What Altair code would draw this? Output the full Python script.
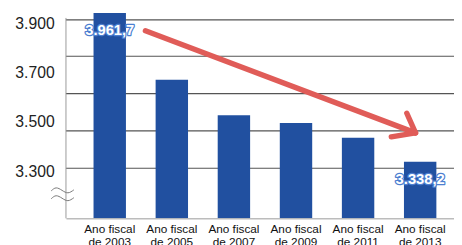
import altair as alt
import pandas as pd

# ---- data ----
years = ["2003", "2005", "2007", "2009", "2011", "2013"]
values = [3961.7, 3672, 3528, 3496, 3436, 3338.2]
value_labels = ["3.961,7", "", "", "", "", "3.338,2"]
y_ticks = [3300, 3500, 3700, 3900]
grid_values = [3916, 3768, 3616, 3464, 3312]
y_min, y_max = 3108, 3944
axis_top = 3924

# arrow annotation (x in band-step units from the left edge, y in data units)
arrow_x = [1.28, 5.49, 5.24]
arrow_y = [3872, 3536, 3440]
arrow_x2 = [5.63, 5.63, 5.63]
arrow_y2 = [3456, 3456, 3456]
# axis-break waves (same units)
wave_x = [-0.237, -0.158, -0.063, 0.032, 0.127]
wave_upper_y = [3220, 3232, 3222, 3212, 3224]
wave_lower_y = [3188, 3200, 3190, 3180, 3192]
x_units_max = 6.25

FONT = "Liberation Sans"
BAR = "#2150a0"
RED = "#e05c58"

bars_df = pd.DataFrame({"year": years, "value": values, "label": value_labels})
bars_df["label_y"] = bars_df["value"].clip(upper=y_max)
grid_df = pd.DataFrame({"g": grid_values})
arrow_df = pd.DataFrame({"x": arrow_x, "y": arrow_y, "x2": arrow_x2, "y2": arrow_y2})
wave_df = pd.concat([
    pd.DataFrame({"x": wave_x, "y": wave_upper_y, "w": "upper"}),
    pd.DataFrame({"x": wave_x, "y": wave_lower_y, "w": "lower"}),
])
yaxis_df = pd.DataFrame({"x": [0], "y": [y_min], "y2": [axis_top]})

yscale = alt.Scale(domain=[y_min, y_max], nice=False, zero=False)

x_band = alt.X(
    "year:N",
    sort=years,
    scale=alt.Scale(paddingInner=0.478, paddingOuter=0.364, align=0.61),
    axis=alt.Axis(
        labelAngle=0, ticks=False, domainColor="#999999", domainWidth=1,
        labelExpr="['Ano fiscal', 'de ' + datum.label]",
        labelFontSize=12, labelLineHeight=14, labelPadding=5,
        labelColor="#111111", labelFont=FONT, title=None,
        labelOverlap=False, labelBound=False,
    ),
)

bars = alt.Chart(bars_df).mark_bar(color=BAR, clip=True).encode(
    x=x_band,
    y=alt.Y(
        "value:Q", scale=yscale,
        axis=alt.Axis(
            values=y_ticks, grid=False, ticks=False, domain=False,
            labelFontSize=16, labelColor="#222222", labelPadding=12,
            labelFont=FONT, title=None,
            labelExpr="replace(format(datum.value, ',.0f'), ',', '.')",
        ),
    ),
    y2=alt.datum(y_min),
)

lab_base = alt.Chart(bars_df).transform_filter("datum.label != ''")
label_halo = lab_base.mark_text(
    dy=17.5, baseline="middle", fontSize=15, fontWeight="bold", font=FONT,
    fill="#4d7fd0", stroke="#4d7fd0", strokeWidth=2.5, strokeJoin="round",
).encode(x=alt.X("year:N", sort=years), y=alt.Y("label_y:Q", scale=yscale), text="label:N")
label_top = lab_base.mark_text(
    dy=17.5, baseline="middle", fontSize=15, fontWeight="bold", font=FONT,
    fill="white",
).encode(x=alt.X("year:N", sort=years), y=alt.Y("label_y:Q", scale=yscale), text="label:N")

grid = alt.Chart(grid_df).mark_rule(color="#555555", strokeWidth=1.2).encode(
    y=alt.Y("g:Q", scale=yscale)
)

xq = alt.Scale(domain=[0, x_units_max], nice=False, zero=False)

yaxis_line = alt.Chart(yaxis_df).mark_rule(color="#999999", strokeWidth=1).encode(
    x=alt.X("x:Q", scale=xq, axis=None),
    y=alt.Y("y:Q", scale=yscale),
    y2="y2:Q",
)

arrow = alt.Chart(arrow_df).mark_rule(color=RED, strokeWidth=5.5, strokeCap="round").encode(
    x=alt.X("x:Q", scale=xq, axis=None),
    x2="x2:Q",
    y=alt.Y("y:Q", scale=yscale),
    y2="y2:Q",
)

waves = alt.Chart(wave_df).mark_line(
    color="#777777", strokeWidth=1, interpolate="natural", clip=False
).encode(
    x=alt.X("x:Q", scale=xq, axis=None),
    y=alt.Y("y:Q", scale=yscale),
    detail="w:N",
    order="x:Q",
)

band_layer = alt.layer(grid, bars, label_halo, label_top)
q_layer = alt.layer(yaxis_line, arrow, waves)

chart = alt.layer(band_layer, q_layer).resolve_scale(x="independent").properties(
    width=395,
    height=209,
    padding={"left": 59, "top": 3, "right": 0, "bottom": 25},
    autosize=alt.AutoSizeParams(type="none"),
    background="white",
).configure_view(stroke=None)

chart.save("out.html", embed_options={"renderer": "svg", "actions": False})
